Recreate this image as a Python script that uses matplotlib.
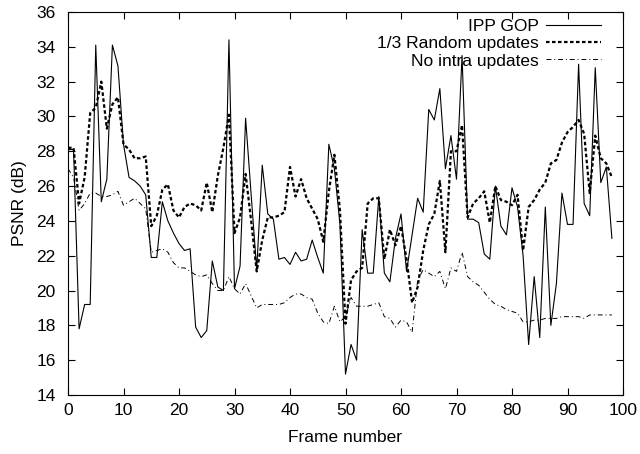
import matplotlib
matplotlib.use('Agg')
import matplotlib.pyplot as plt
import numpy as np

plt.rcParams['font.family'] = ['Liberation Sans', 'DejaVu Sans']
plt.rcParams['font.size'] = 12.5

# PSNR per frame (dB), frames 0..98
frames = np.arange(99)
ippGop = [28.1, 28.1, 17.8, 19.2, 19.2, 34.1, 25.1, 26.4, 34.1, 32.9,
          28.4, 26.5, 26.3, 26.0, 25.5, 21.9, 21.9, 25.1, 24.0, 23.3,
          22.7, 22.3, 22.4, 17.9, 17.3, 17.7, 21.7, 20.2, 20.0, 34.4,
          20.1, 21.4, 29.9, 25.5, 21.2, 27.2, 24.4, 24.1, 21.8, 21.9,
          21.5, 22.2, 21.7, 21.8, 22.9, 21.9, 21.0, 28.4, 27.0, 23.8,
          15.2, 16.9, 16.0, 23.5, 21.0, 21.0, 25.4, 21.0, 20.5, 23.0,
          24.4, 21.1, 23.2, 25.3, 24.5, 30.4, 29.8, 31.6, 27.0, 28.9,
          26.4, 33.5, 24.1, 24.1, 23.9, 22.1, 21.8, 26.0, 23.7, 23.2,
          25.9, 24.8, 22.0, 16.9, 20.8, 17.3, 24.8, 18.0, 20.4, 25.6,
          23.8, 23.8, 33.0, 25.0, 24.3, 32.8, 26.2, 27.1, 23.0]
randomUpdates = [28.2, 28.2, 25.0, 26.5, 30.2, 30.5, 32.0, 29.3, 30.7, 31.1,
                 28.4, 28.1, 27.6, 27.6, 27.7, 23.7, 24.3, 25.8, 26.1, 24.6,
                 24.2, 24.8, 25.0, 24.9, 24.6, 26.2, 24.5, 26.6, 28.2, 30.1,
                 23.3, 24.2, 26.7, 24.0, 21.1, 22.9, 24.2, 24.2, 24.3, 24.5,
                 27.1, 25.4, 26.4, 25.3, 24.7, 24.1, 22.8, 25.7, 27.8, 24.6,
                 18.1, 20.6, 21.1, 21.3, 25.0, 25.3, 25.3, 21.8, 23.5, 22.6,
                 23.7, 21.8, 19.3, 20.2, 22.3, 23.8, 24.4, 26.3, 22.2, 28.0,
                 28.0, 29.5, 24.2, 25.0, 25.3, 25.7, 23.9, 26.0, 25.2, 25.1,
                 24.9, 25.5, 22.3, 24.8, 25.2, 25.8, 26.2, 27.3, 27.5, 28.5,
                 29.1, 29.4, 29.8, 29.0, 25.6, 28.9, 27.6, 27.3, 26.5]
noIntra = [27.0, 26.5, 24.6, 25.0, 25.6, 25.6, 25.4, 25.4, 25.5, 25.7,
           24.9, 25.1, 25.3, 25.0, 24.7, 22.2, 22.3, 22.4, 22.2, 21.6,
           21.3, 21.3, 21.1, 20.9, 20.8, 20.9, 20.4, 20.0, 20.0, 20.8,
           20.1, 19.8, 20.4, 19.7, 19.0, 19.2, 19.2, 19.2, 19.2, 19.3,
           19.6, 19.8, 19.8, 19.6, 19.5, 18.7, 18.2, 18.1, 19.1, 18.2,
           18.5, 19.6, 19.1, 19.1, 19.1, 19.2, 19.3, 18.5, 18.4, 17.9,
           18.3, 18.2, 17.6, 20.6, 21.2, 21.0, 20.8, 21.1, 20.1, 21.3,
           21.1, 22.2, 20.8, 20.5, 20.3, 19.9, 19.5, 19.2, 19.1, 18.9,
           18.8, 18.7, 18.2, 18.2, 18.3, 18.3, 18.4, 18.4, 18.4, 18.5,
           18.5, 18.5, 18.5, 18.4, 18.6, 18.6, 18.6, 18.6, 18.6]

fig = plt.figure(figsize=(6.4, 4.54), dpi=100)
ax = fig.add_axes([68/640, 1-395/454, 555/640, 383/454])

ax.plot(frames, ippGop, color='black', lw=0.8, label='IPP GOP')
ax.plot(frames, randomUpdates, color='black', lw=1.6, linestyle=(0, (1.6, 1.1)), label='1/3 Random updates')
ax.plot(frames, noIntra, color='black', lw=0.7, linestyle=(0, (5, 3, 1, 3)), label='No intra updates')

ax.set_xlim(0, 100)
ax.set_ylim(14, 36)
ax.set_xticks(np.arange(0, 101, 10))
ax.set_yticks(np.arange(14, 37, 2))
ax.tick_params(direction='in', top=True, right=True, length=5, width=0.8)
ax.tick_params(axis='x', pad=6)
ax.tick_params(axis='y', pad=9)
for s in ax.spines.values():
    s.set_linewidth(0.8)
ax.set_xlabel('Frame number')
ax.set_ylabel('PSNR (dB)')
ax.xaxis.set_label_coords(0.5, -0.092)
ax.yaxis.set_label_coords(-0.074, 0.5)

ax.legend(loc='upper right', bbox_to_anchor=(0.961, 0.981), frameon=False, markerfirst=False,
          borderpad=0, borderaxespad=0, labelspacing=0.11, handlelength=3.16, handletextpad=0.46)

fig.savefig('out.png', dpi=100)
